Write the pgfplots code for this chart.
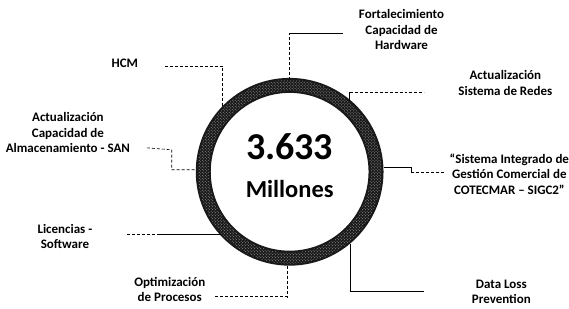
\documentclass[border=0pt]{standalone}
\usepackage{pgfplots}
\pgfplotsset{compat=1.18}
\usepackage{fontspec}
\setmainfont{Carlito}
\usetikzlibrary{patterns}
\begin{document}
\begin{tikzpicture}
\begin{axis}[width=569pt,height=309pt,scale only axis,
  xmin=0,xmax=569,ymin=0,ymax=309,y dir=reverse,hide axis,clip=false]
\draw[draw=none] (axis cs:0,0) rectangle (axis cs:569,309);
% ring
\fill[black!90,even odd rule] (axis cs:290,172) circle[radius=94] (axis cs:290,172) circle[radius=79];
\fill[pattern=crosshatch dots, pattern color=gray!75, even odd rule] (axis cs:290,172) circle[radius=92] (axis cs:290,172) circle[radius=81];
% center text
\node[anchor=base,inner sep=0,font=\fontsize{38}{38}\selectfont\bfseries] at (axis cs:290,160) {3.633};
\node[anchor=base,inner sep=0,font=\fontsize{24.5}{24.5}\selectfont\bfseries] at (axis cs:290,198) {Millones};
% connectors
\addplot[line width=0.6pt, black, densely dashed] coordinates {(290,80) (290,33)};
\addplot[line width=0.6pt, black] coordinates {(290,33) (343,33)};
\addplot[line width=0.6pt, black] coordinates {(350,101) (350,92)};
\addplot[line width=0.6pt, black, densely dashed] coordinates {(350,92) (425,92)};
\addplot[line width=0.6pt, black] coordinates {(384,168) (412,168) (412,173)};
\addplot[line width=0.6pt, black, densely dashed] coordinates {(412,173) (445,173)};
\addplot[line width=0.6pt, black] coordinates {(351,244) (351,292) (425,292)};
\addplot[line width=0.6pt, black, densely dashed] coordinates {(288,266) (288,298)};
\addplot[line width=0.6pt, black, densely dashed] coordinates {(288,297) (215,297)};
\addplot[line width=0.6pt, black] coordinates {(221,235) (160,235)};
\addplot[line width=0.6pt, black, densely dashed] coordinates {(160,235) (127,235)};
\addplot[line width=0.6pt, black, densely dashed] coordinates {(147,148) (172,150) (172,170) (196,170)};
\addplot[line width=0.6pt, black, densely dashed] coordinates {(165,66) (223,66) (223,106)};
% labels
\tikzset{lab/.style={align=center,inner sep=0,font=\fontsize{13}{15.5}\selectfont\bfseries}}
\node[lab] at (axis cs:402,30) {Fortalecimiento\\Capacidad de\\Hardware};
\node[lab] at (axis cs:506,83) {Actualización\\Sistema de Redes};
\node[lab] at (axis cs:510,174) {“Sistema Integrado de\\Gestión Comercial de\\COTECMAR – SIGC2”};
\node[lab] at (axis cs:502,292) {Data Loss\\Prevention};
\node[lab] at (axis cs:170,290) {Optimización\\de Procesos};
\node[lab] at (axis cs:65,237) {Licencias -\\Software};
\node[lab] at (axis cs:68,133) {Actualización\\Capacidad de\\Almacenamiento - SAN};
\node[lab] at (axis cs:125,63) {HCM};
\end{axis}
\end{tikzpicture}
\end{document}
